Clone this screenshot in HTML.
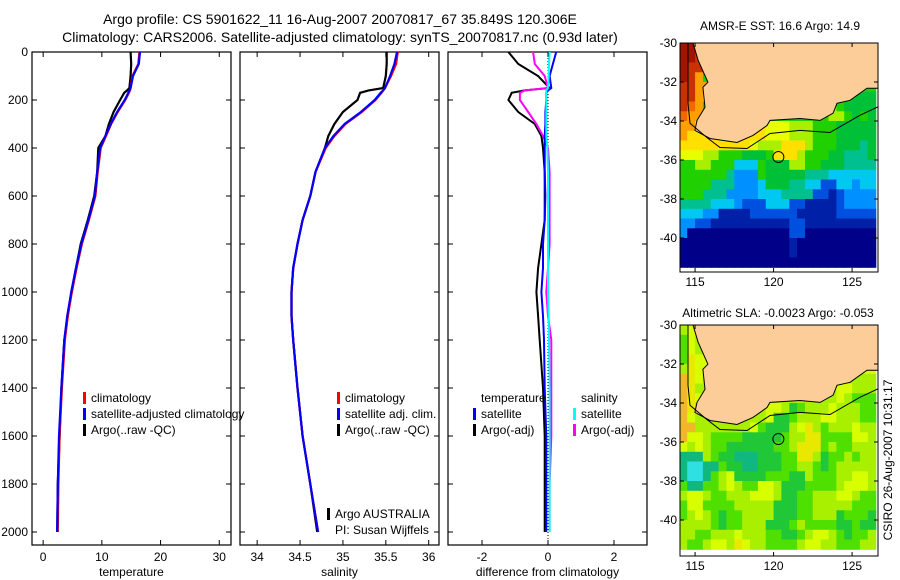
<!DOCTYPE html>
<html><head><meta charset="utf-8"><style>
html,body{margin:0;padding:0;background:#fff;}
svg{display:block;font-family:"Liberation Sans",sans-serif;}
</style></head><body>
<svg id="fig" width="900" height="580" viewBox="0 0 900 580" xmlns="http://www.w3.org/2000/svg">
<text x="340" y="24" font-size="14" text-anchor="middle">Argo profile: CS 5901622_11 16-Aug-2007 20070817_67 35.849S 120.306E</text>
<text x="340" y="42" font-size="14" text-anchor="middle">Climatology: CARS2006. Satellite-adjusted climatology: synTS_20070817.nc (0.93d later)</text>
<text x="780" y="30" font-size="12" text-anchor="middle">AMSR-E SST: 16.6 Argo: 14.9</text>
<text x="778" y="317" font-size="12" text-anchor="middle">Altimetric SLA: -0.0023 Argo: -0.053</text>
<text transform="translate(892,460) rotate(-90)" font-size="12" text-anchor="middle">CSIRO 26-Aug-2007 10:31:17</text>
</svg>
<script>
// ---- profile data ----
const depths = [0,50,100,150,160,170,200,250,300,350,400,500,600,700,800,900,1000,1100,1200,1400,1600,1800,2000];
const tempArgo = [14.9,15.0,14.9,14.7,14.3,13.8,13.1,12.0,11.2,10.6,9.4,9.2,8.7,7.6,6.4,5.6,4.8,4.2,3.6,3.1,2.8,2.5,2.4];
const tempClim = [16.4,16.2,15.2,14.9,14.8,14.6,14.0,12.7,11.6,10.7,9.8,9.3,8.9,7.8,6.6,5.7,4.9,4.2,3.7,3.2,2.8,2.6,2.5];
const tempSat = [16.5,16.3,15.3,14.9,14.7,14.5,13.9,12.6,11.5,10.6,9.7,9.2,8.8,7.7,6.5,5.6,4.8,4.1,3.6,3.1,2.7,2.5,2.4];
const salArgo = [35.51,35.51,35.5,35.47,35.3,35.2,35.17,35.0,34.9,34.83,34.79,34.68,34.62,34.53,34.47,34.42,34.4,34.4,34.42,34.47,34.53,34.62,34.7];
const salClim = [35.64,35.62,35.56,35.49,35.47,35.45,35.38,35.22,35.03,34.9,34.8,34.68,34.62,34.53,34.47,34.42,34.4,34.4,34.42,34.47,34.53,34.62,34.71];
const salSat = [35.63,35.6,35.55,35.49,35.47,35.44,35.37,35.21,35.02,34.89,34.79,34.68,34.62,34.53,34.47,34.42,34.4,34.4,34.42,34.47,34.53,34.62,34.71];
const dTArgo = [-1.2,-0.9,-0.3,0.05,-0.7,-1.1,-1.2,-0.9,-0.4,-0.2,-0.15,-0.1,-0.1,-0.1,-0.2,-0.3,-0.35,-0.3,-0.25,-0.15,-0.1,-0.1,-0.1];
const dTSat = [0.25,0.15,0.05,0.1,0.0,-0.05,-0.05,-0.08,-0.08,-0.1,-0.1,-0.1,-0.08,-0.1,-0.15,-0.15,-0.2,-0.15,-0.12,-0.1,-0.05,-0.05,-0.05];
const dSArgo = [-0.45,-0.4,-0.1,0.0,-0.7,-0.85,-0.85,-0.6,-0.35,-0.15,0.0,0.05,0.05,0.05,0.05,0.0,-0.05,0.0,0.1,0.1,0.1,0.05,0.05];
const dSSat = [0.05,0.03,0.02,0.0,-0.05,-0.05,-0.05,-0.05,-0.05,-0.05,-0.02,0,0,0,0,0,0,0.02,0.03,0.05,0.05,0.05,0.05];
const depthTicks = [0,200,400,600,800,1000,1200,1400,1600,1800,2000];
const tempTicks = [0,10,20,30];
const salTicks = [34,34.5,35,35.5,36];
const diffTicks = [-2,0,2];
// ---- map data ----
const lonTicks = [115,120,125];
const latTicks = [-30,-32,-34,-36,-38,-40];
const argoLon = 120.306, argoLat = -35.849;
const coastLon = [114.87,115.19,115.82,115.5,115.63,115.12,114.99,115.95,117.67,118.69,119.58,119.77,121.68,122.96,123.79,124.04,124.87,125.95,126.7,126.7];
const coastLat = [-30.0,-30.88,-32.01,-32.27,-33.3,-33.97,-34.48,-34.9,-35.1,-34.74,-34.23,-33.97,-33.87,-33.97,-33.6,-33.09,-32.94,-32.32,-32.32,-29.9];
const isoLon = [114.55,114.55,114.68,115.76,116.59,118.31,119.77,121.68,123.59,125.5,126.7];
const isoLat = [-30,-33.09,-34.12,-34.85,-35.36,-35.41,-34.64,-34.48,-34.59,-33.71,-33.25];
const sstRows = ["RRrggggggggggggggggggggggg","RRrg","Rrrg","RrOg","rrOOg","rrOyggggggggggggggggggGGGG","roOgggggggggggggggglgGGGG","oOOygggggggggggggggllgGgGG","OOyyyyyyyyyYYYlllgggGGGGG","OyyyyyyyyyyYYYlllgggGGGGG","yyyyyyyyyYlllyyylgggGGGtG","YYYllgggGGGgyyylgggGGtttG","ggllgggcccgGGGllggGGGtttt","ggggggtbbbgGGGGGtttcccccc","ggggtttbbbcGGGttccBBccbcc","gggtttbbbbcccttttBBnBbbbb","ttttcccbBBBcccBBnnnnBbbbb","cccbbnnnnBBBBBBnnnnnBBBBB","bbBBnnnnnnnnnnBBnnnnnnnnn","bNNNNNNNNNNNNNBBNNNNNNNNN","NNNNNNNNNNNNNNnNNNNNNNNNN","NNNNNNNNNNNNNNnNNNNNNNNNN","NNNNNNNNNNNNNNNNNNNNNNNNN"];
const slaRows = ["lYllllllllllllllllllllllll","gYl","gYl","gyY","lyY","oyYlllllllllllllllllllll","oyllllllllllllllllllYYlll","oyYlllllllllllllllllYlggg","oylllllllllYYlGglllYlllgg","oYlllllllllYGGglllYYlllgg","oolllllllYgGGGlYylglllYll","oYYlggggGGGGGgllyyggggYYl","YlYlggGGGGGGgglyyyglgglll","tttlgGGtttGGGggyylGgglgll","tccttgGGttGGGggllgGglllll","tcctglYGGGGgggGGlgggllYYl","gttgglYlggYYlGGGgggglYYYl","lYYlgglllYYYlGGgglllYYlgg","gYYgggglllllGGGgglllllggg","glYlgGggllllGGGgglllGgggG","llllgGgglllGGGglggggGGgGG","llgglllYlllggGGglYYlgGggl","lgglYYlyYllgggglYYllgggll"];
const sstColors = {R:"#a01400",r:"#c83200",o:"#f06800",O:"#ffa000",y:"#ffe000",Y:"#e8ff00",l:"#a8f000",g:"#20d000",G:"#00c038",t:"#00c090",c:"#00c8f0",b:"#0090ff",B:"#0050e0",n:"#0020a8",N:"#000088"};
const slaColors = {o:"#f0b828",y:"#e8e800",Y:"#d8ff00",l:"#a8f000",g:"#50e000",G:"#20c838",t:"#10b880",c:"#30e0e0"};

const NS="http://www.w3.org/2000/svg";
const svg=document.getElementById('fig');
function mk(tag,attrs,parent){const e=document.createElementNS(NS,tag);for(const k in attrs)e.setAttribute(k,attrs[k]);(parent||svg).appendChild(e);return e;}
function txt(x,y,s,anchor,size,parent){const t=mk('text',{x:x,y:y,'font-size':size||12,'text-anchor':anchor||'middle'},parent);t.textContent=s;return t;}

const PT=52, PB=545;
function yD(d){return PT+d*0.24;}
function panel(name,x0,x1,xmin,xmax,ticks,xlabel,showY){
  const g=mk('g',{});
  
  
  const sx=v=>x0+(v-xmin)/(xmax-xmin)*(x1-x0);
  mk('rect',{x:x0,y:PT,width:x1-x0,height:PB-PT,fill:'none',stroke:'#000','stroke-width':1.2},g);
  depthTicks.forEach(d=>{const y=yD(d);
    mk('line',{x1:x0,y1:y,x2:x0+5,y2:y,stroke:'#000'},g);
    mk('line',{x1:x1-5,y1:y,x2:x1,y2:y,stroke:'#000'},g);
    if(showY){const t=txt(x0-4,y+4,String(d),'end',12,g);}
  });
  ticks.forEach(v=>{const x=sx(v);
    mk('line',{x1:x,y1:PB,x2:x,y2:PB-5,stroke:'#000'},g);
    mk('line',{x1:x,y1:PT,x2:x,y2:PT+5,stroke:'#000'},g);
    const t=txt(x,PB+16,String(v),'middle',12,g);
    
    
  });
  const xl=txt((x0+x1)/2,PB+31,xlabel,'middle',12,g);
  
  
  return {g,sx};
}
function series(p,vals,color,name,w){
  const pts=vals.map((v,i)=>p.sx(v).toFixed(1)+','+yD(depths[i]).toFixed(1)).join(' ');
  const l=mk('polyline',{points:pts,fill:'none',stroke:color,'stroke-width':w||2},p.g);
  
  
}
function legend(p,x,y,items){
  items.forEach((it,i)=>{
    if(it.c){const m=mk('rect',{x:x,y:y+i*16-10,width:3,height:12,fill:it.c},p.g);
      
      }
    const t=txt(x+8,y+i*16,it.t,'start',12,p.g);
    
    
  });
}
// panel 1
const p1=panel('temperature-panel',32,231,-1.9,32.0,tempTicks,'temperature',true);
series(p1,tempArgo,'#000','argo-temperature-line',2.2);
series(p1,tempClim,'#f00','climatology-temperature-line',2.2);
series(p1,tempSat,'#0000ff','satellite-temperature-line',2.2);
legend(p1,83,402,[{c:'#f00',t:'climatology'},{c:'#00f',t:'satellite-adjusted climatology'},{c:'#000',t:'Argo(..raw -QC)'}]);
// panel 2
const p2=panel('salinity-panel',240,439,33.8,36.12,salTicks,'salinity',false);
series(p2,salArgo,'#000','argo-salinity-line',2.2);
series(p2,salClim,'#f00','climatology-salinity-line',2.2);
series(p2,salSat,'#0000ff','satellite-salinity-line',2.2);
legend(p2,337,402,[{c:'#f00',t:'climatology'},{c:'#00f',t:'satellite adj. clim.'},{c:'#000',t:'Argo(..raw -QC)'}]);
legend(p2,327,518,[{c:'#000',t:'Argo AUSTRALIA'},{c:null,t:'PI: Susan Wijffels'}]);
// panel 3
const p3=panel('difference-panel',448,647,-3.03,3.0,diffTicks,'difference from climatology',false);
const zx=p3.sx(0);
const zl=mk('line',{x1:zx,y1:PT,x2:zx,y2:PB,stroke:'#000','stroke-dasharray':'1,2'},p3.g);


series(p3,dTArgo,'#000','argo-temp-diff-line',2);
series(p3,dSArgo,'#ff00ff','argo-salinity-diff-line',2);
series(p3,dTSat,'#0000ff','satellite-temp-diff-line',2);
series(p3,dSSat,'#00ffff','satellite-salinity-diff-line',2);
legend(p3,473,402,[{c:null,t:'temperature'},{c:'#00f',t:'satellite'},{c:'#000',t:'Argo(-adj)'}]);
legend(p3,573,402,[{c:null,t:'salinity'},{c:'#0ff',t:'satellite'},{c:'#f0f',t:'Argo(-adj)'}]);

// maps
function drawMap(name,top,bottom,rows,colors,showLon){
  const x0=680,x1=878,lon0=114.04,lon1=126.65,lat0=-30,lat1=-30-(bottom-top)/19.5;
  const g=mk('g',{});
  
  
  const sx=lon=>x0+(lon-lon0)/(lon1-lon0)*(x1-x0);
  const sy=lat=>top+(lat0-lat)*19.5;
  const cid='clip'+name;
  const cp=mk('clipPath',{id:cid},g);mk('rect',{x:x0,y:top,width:x1-x0,height:bottom-top},cp);
  const cg=mk('g',{'clip-path':'url(#'+cid+')'},g);
  rows.forEach((row,r)=>{
    for(let c=0;c<25;c++){
      const ch=row[Math.min(c,row.length-1)];
      const lonA=114+c*0.5, latA=-30-r*0.5;
      const cell=mk('rect',{x:sx(lonA).toFixed(1),y:sy(latA).toFixed(1),width:(sx(lonA+0.5)-sx(lonA)+0.6).toFixed(1),height:(sy(latA-0.5)-sy(latA)+0.6).toFixed(1),fill:colors[ch]},cg);
      
      
    }
  });
  const land=mk('polygon',{points:coastLon.map((v,i)=>sx(v).toFixed(1)+','+sy(coastLat[i]).toFixed(1)).join(' '),fill:'#fccc99',stroke:'#000','stroke-width':1},cg);
  
  
  const iso=mk('polyline',{points:isoLon.map((v,i)=>sx(v).toFixed(1)+','+sy(isoLat[i]).toFixed(1)).join(' '),fill:'none',stroke:'#000','stroke-width':1},cg);
  
  
  const ap=mk('circle',{cx:sx(argoLon),cy:sy(argoLat),r:5.5,fill:'none',stroke:'#000','stroke-width':1},g);
  
  
  mk('rect',{x:x0,y:top,width:x1-x0,height:bottom-top,fill:'none',stroke:'#000','stroke-width':1},g);
  latTicks.forEach(l=>{const y=sy(l);if(y>bottom)return;
    mk('line',{x1:x0,y1:y,x2:x0+4,y2:y,stroke:'#000'},g);
    mk('line',{x1:x1-4,y1:y,x2:x1,y2:y,stroke:'#000'},g);
    const t=txt(x0-3,y+4,String(l),'end',12,g);
    
    
  });
  lonTicks.forEach(l=>{const x=sx(l);
    mk('line',{x1:x,y1:bottom,x2:x,y2:bottom-4,stroke:'#000'},g);
    mk('line',{x1:x,y1:top,x2:x,y2:top+4,stroke:'#000'},g);
    const t=txt(x,bottom+14,String(l),'middle',12,g);
    
    
  });
}
drawMap('sst-map',43,272,sstRows,sstColors,true);
drawMap('sla-map',325,556,slaRows,slaColors,true);
</script>
</body></html>
